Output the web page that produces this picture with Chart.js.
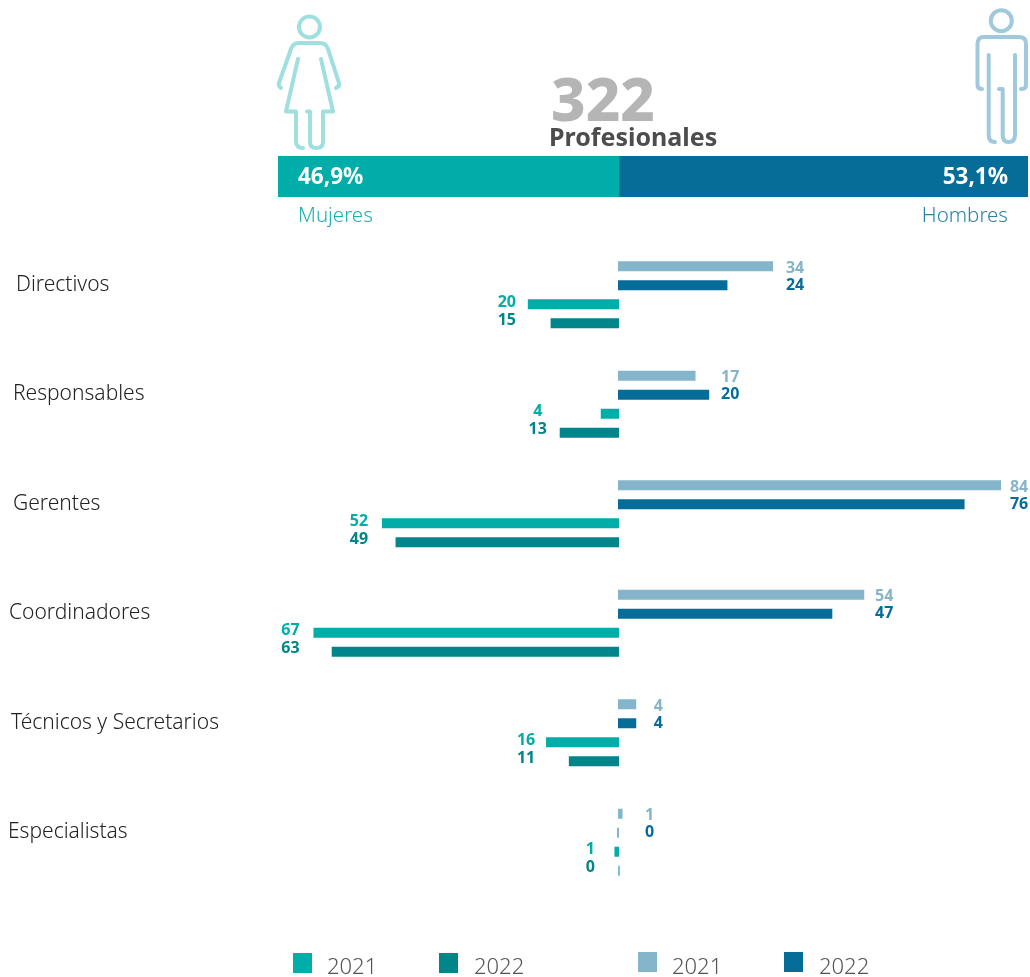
<!DOCTYPE html>
<html lang="es">
<head>
<meta charset="utf-8">
<title>322 Profesionales</title>
<script src="https://cdn.jsdelivr.net/npm/chart.js@4/dist/chart.umd.min.js"></script>
<style>
    html, body { margin: 0; padding: 0; background: #fff; overflow: hidden; }
    #page { position: relative; width: 1030px; height: 977px; font-family: "Noto Sans", sans-serif; }
    #page canvas { position: absolute; }
    #mainChart { left: 0; top: 0; }
    #shareChart { left: 278px; top: 156px; }
    .icon { position: absolute; left: 0; top: 0; }
    .abs { position: absolute; white-space: nowrap; line-height: 1; }
    #total { left: 551px; top: 68px; font-size: 60px; font-weight: 800; color: #b5b5b5; }
    #totalLabel { left: 549px; top: 124px; font-size: 25px; font-weight: 700; color: #4d4d4d; }
    #labelWomen { left: 298px; top: 204px; font-size: 20.5px; font-weight: 300; color: #1cb2ae; }
    #labelMen { right: 22px; top: 204px; font-size: 20.5px; font-weight: 300; color: #2c80a4; }
    .swatch { position: absolute; width: 19px; height: 20px; }
    .legendText { position: absolute; font-size: 22px; font-weight: 300; color: #555; line-height: 1; }
</style>
</head>
<body>
<div id="page">
    <canvas id="mainChart" width="1030" height="977"></canvas>
    <canvas id="shareChart" width="750" height="41"></canvas>

    <svg class="icon" width="1030" height="160" fill="none" stroke-width="4" stroke-linecap="round" stroke-linejoin="round">
        <g stroke="#a0dfdf">
            <circle cx="309.5" cy="27" r="10.5"/>
            <path d="M281 88 Q278 86 279 83 L291 49 Q293 43 299 43 L320 43 Q326 43 328 49 L339 83 Q340 86 336 88"/>
            <path d="M298 59 L286 111.5 L296 111.5 L296 141 Q296 148 303 148"/>
            <path d="M321 59 L333 111.5 L323 111.5 L323 142 Q323 148 316.5 148 Q310 148 310 142 L310 111.5 L307 111.5"/>
        </g>
        <g stroke="#a0c9db">
            <circle cx="1001.3" cy="20.7" r="10.5"/>
            <path d="M982 89 Q977.5 89 977.5 85 L977.5 44 Q977.5 37 984 37 L1019 37 Q1026 37 1026 44 L1026 85 Q1026 89 1021 89"/>
            <path d="M988.7 55 L988.7 135 Q988.7 142 995 142"/>
            <path d="M1015 55 L1015 135 Q1015 142 1008.5 142 Q1002.7 142 1002.7 135 L1002.7 89 L999 89"/>
        </g>
    </svg>

    <div class="abs" id="total">322</div>
    <div class="abs" id="totalLabel">Profesionales</div>
    <div class="abs" id="labelWomen">Mujeres</div>
    <div class="abs" id="labelMen">Hombres</div>
    <div id="legend"></div>
</div>

<script>
    // --- Data ---
    const categories = ['Directivos', 'Responsables', 'Gerentes', 'Coordinadores', 'Técnicos y Secretarios', 'Especialistas'];
    const men2021 = [34, 17, 84, 54, 4, 1];
    const men2022 = [24, 20, 76, 47, 4, 0];
    const women2021 = [20, 4, 52, 67, 16, 1];
    const women2022 = [15, 13, 49, 63, 11, 0];
    const shareWomen = 46.9;
    const shareMen = 53.1;
    const legendYears = ['2021', '2022', '2021', '2022'];

    // --- Styles ---
    const colWomen2021 = '#00ada9';
    const colWomen2022 = '#00858a';
    const colMen2021 = '#84b5cb';
    const colMen2022 = '#066d98';
    const legendColors = [colWomen2021, colWomen2022, colMen2021, colMen2022];
    const legendSwatchX = [293, 439, 638, 784];
    const legendSwatchY = [953, 953, 952, 952];
    const legendTextX = [327, 474, 672, 819];

    const categoryLabelX = [16, 13, 13, 9, 11, 8];
    const menLabelGap = [22, 21, 18, 20, 22, 27];
    const womenLabelGap = [21, 22, 23, 23, 20, 24];
    const fontFamily = '"Noto Sans", sans-serif';

    // draws the category names on the left and the value labels next to the bars
    const barLabels = {
        id: 'barLabels',
        afterDatasetsDraw(chart) {
            const ctx = chart.ctx;
            const xMen = chart.scales.x;
            const xWomen = chart.scales.xWomen;
            const y = chart.scales.y;
            ctx.save();
            ctx.textBaseline = 'middle';

            ctx.font = '300 21px ' + fontFamily;
            ctx.fillStyle = '#222';
            ctx.textAlign = 'left';
            categories.forEach((name, i) => {
                ctx.fillText(name, categoryLabelX[i], y.getPixelForValue(i) - 10);
            });

            ctx.font = '700 16px ' + fontFamily;
            ctx.textAlign = 'center';
            chart.data.datasets.forEach((ds, d) => {
                const bars = chart.getDatasetMeta(d).data;
                ds.data.forEach((v, i) => {
                    let labelX;
                    if (d < 2) {
                        labelX = xMen.getPixelForValue(Math.max(men2021[i], men2022[i])) + menLabelGap[i];
                    } else {
                        labelX = xWomen.getPixelForValue(-Math.max(women2021[i], women2022[i])) - womenLabelGap[i];
                    }
                    ctx.fillStyle = ds.backgroundColor;
                    ctx.fillText(Math.abs(v), labelX, bars[i].y + ds.labelShift);
                });
            });
            ctx.restore();
        }
    };

    new Chart(document.getElementById('mainChart'), {
        type: 'bar',
        plugins: [barLabels],
        data: {
            labels: categories,
            datasets: [
                { label: 'Hombres 2021', data: men2021, backgroundColor: colMen2021, labelShift: 2 },
                { label: 'Hombres 2022', data: men2022, backgroundColor: colMen2022, labelShift: 0 },
                { label: 'Mujeres 2021', data: women2021.map(v => -v), backgroundColor: colWomen2021, xAxisID: 'xWomen', labelShift: -2 },
                { label: 'Mujeres 2022', data: women2022.map(v => -v), backgroundColor: colWomen2022, xAxisID: 'xWomen', labelShift: -3 }
            ]
        },
        options: {
            indexAxis: 'y',
            responsive: false,
            animation: false,
            layout: { padding: { top: 240, bottom: 80, left: 0, right: 0 } },
            datasets: { bar: { categoryPercentage: 0.694, barPercentage: 0.526, minBarLength: 1 } },
            plugins: { legend: { display: false }, tooltip: { enabled: false } },
            scales: {
                // both axes run at 4.56 px per person; the women's zero sits 1 px further right
                x: { display: false, min: -135.526, max: 90.351 },
                xWomen: { display: false, axis: 'x', min: -135.746, max: 90.131 },
                y: { display: false }
            }
        }
    });

    // writes the two percentages on the share bar
    const shareLabels = {
        id: 'shareLabels',
        afterDatasetsDraw(chart) {
            const ctx = chart.ctx;
            ctx.save();
            ctx.font = '700 22.5px ' + fontFamily;
            ctx.fillStyle = '#fff';
            ctx.textBaseline = 'middle';
            ctx.textAlign = 'left';
            ctx.fillText(String(shareWomen).replace('.', ',') + '%', 20, 22);
            ctx.textAlign = 'right';
            ctx.fillText(String(shareMen).replace('.', ',') + '%', 730, 22);
            ctx.restore();
        }
    };

    // the divider sits at 341 of 750 px, so each side gets its own axis
    new Chart(document.getElementById('shareChart'), {
        type: 'bar',
        plugins: [shareLabels],
        data: {
            labels: ['Total'],
            datasets: [
                { label: 'Mujeres', data: [-shareWomen], backgroundColor: colWomen2021, xAxisID: 'xWomen' },
                { label: 'Hombres', data: [shareMen], backgroundColor: colMen2022, xAxisID: 'xMen' }
            ]
        },
        options: {
            indexAxis: 'y',
            responsive: false,
            animation: false,
            datasets: { bar: { categoryPercentage: 1, barPercentage: 1, grouped: false } },
            plugins: { legend: { display: false }, tooltip: { enabled: false } },
            scales: {
                xWomen: { display: false, axis: 'x', min: -shareWomen, max: shareWomen * 409 / 341 },
                xMen: { display: false, axis: 'x', min: -shareMen * 341 / 409, max: shareMen },
                y: { display: false }
            }
        }
    });

    // --- Legend (HTML) ---
    const legend = document.getElementById('legend');
    legendYears.forEach((year, i) => {
        const swatch = document.createElement('div');
        swatch.className = 'swatch';
        swatch.style.left = legendSwatchX[i] + 'px';
        swatch.style.top = legendSwatchY[i] + 'px';
        swatch.style.background = legendColors[i];
        legend.appendChild(swatch);

        const text = document.createElement('div');
        text.className = 'legendText';
        text.style.left = legendTextX[i] + 'px';
        text.style.top = '954px';
        text.textContent = year;
        legend.appendChild(text);
    });
</script>
</body>
</html>
